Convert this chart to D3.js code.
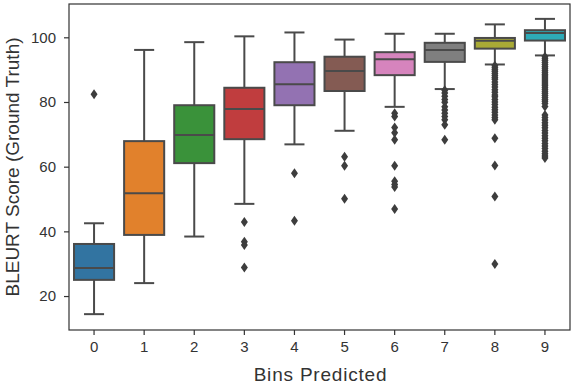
<!DOCTYPE html>
<html>
<head>
<meta charset="utf-8">
<script src="https://cdn.jsdelivr.net/npm/d3@7"></script>
<style>
  body { margin: 0; background: #fff; }
  svg { display: block; font-family: "Liberation Sans", Arial, sans-serif; }
</style>
</head>
<body>
<div id="chart"></div>
<script>
// bins on x axis
var bins = ["0", "1", "2", "3", "4", "5", "6", "7", "8", "9"];
var colors = ["#3274a1", "#e1812c", "#3a923a", "#c03d3e", "#9372b2",
              "#845b53", "#d684bd", "#7f7f7f", "#a9aa35", "#2eabb8"];

// box stats
var whiskerLo = [14.4, 24.0, 38.4, 48.5, 66.9, 71.1, 78.5, 84.0, 91.6, 94.4];
var q1        = [25.0, 38.9, 61.1, 68.5, 79.0, 83.4, 88.3, 92.4, 96.5, 99.0];
var median    = [28.7, 51.8, 69.8, 77.8, 85.5, 89.6, 93.2, 96.1, 98.9, 101.3];
var q3        = [36.1, 67.9, 79.0, 84.4, 92.3, 94.0, 95.4, 98.3, 99.8, 102.2];
var whiskerHi = [42.5, 96.1, 98.5, 100.3, 101.5, 99.3, 101.1, 101.1, 104.0, 105.7];

var outliers = [
  [82.4],
  [],
  [],
  [42.9, 36.8, 35.8, 28.8],
  [58.0, 43.3],
  [63.1, 60.3, 50.1],
  [76.5, 75.5, 72.1, 70.5, 68.3, 60.3, 55.5, 54.5, 53.7, 46.9],
  [83.6, 82.8, 81.8, 80.8, 79.9, 78.5, 77.5, 76.5, 75.5, 74.5, 73.0, 68.3],
  [91.2, 90.6, 90.0, 89.4, 88.8, 88.2, 87.6, 87.0, 86.2, 85.4, 84.6, 83.8,
   83.0, 82.2, 81.6, 80.8, 80.0, 79.2, 78.4, 77.6, 76.8, 76.0, 75.2, 74.5,
   68.8, 60.4, 50.8, 29.9],
  [94.0, 93.4, 92.8, 92.2, 91.6, 91.0, 90.4, 89.8, 89.2, 88.6, 88.0, 87.4,
   86.8, 86.2, 85.6, 85.0, 84.4, 83.8, 83.2, 82.6, 82.0, 81.4, 80.8, 80.2,
   79.5, 78.6, 76.0, 75.2, 74.4, 73.6, 72.8, 72.0, 71.2, 70.4, 69.6, 68.8,
   68.0, 67.2, 66.4, 65.6, 64.8, 64.0, 63.3, 62.7]
];

var yTicks = [20, 40, 60, 80, 100];

var width = 574, height = 384;
var margin = {top: 4, right: 4, bottom: 54, left: 69};
var lineColor = "#4a4a4a";

var svg = d3.select("#chart").append("svg")
    .attr("width", width)
    .attr("height", height);

var x = d3.scaleBand()
    .domain(bins)
    .range([margin.left, width - margin.right])
    .padding(0);

var y = d3.scaleLinear()
    .domain([9.5, 110.3])
    .range([height - margin.bottom, margin.top]);

var boxW = x.bandwidth() * 0.8;

var data = bins.map(function(b, i) {
  return {bin: b, color: colors[i], lo: whiskerLo[i], q1: q1[i], med: median[i],
          q3: q3[i], hi: whiskerHi[i], out: outliers[i]};
});

var g = svg.selectAll("g.box")
    .data(data)
    .enter().append("g")
    .attr("class", "box")
    .attr("transform", function(d) { return "translate(" + (x(d.bin) + x.bandwidth() / 2) + ",0)"; });

// whiskers
g.append("line")
    .attr("x1", 0).attr("x2", 0)
    .attr("y1", function(d) { return y(d.q1); })
    .attr("y2", function(d) { return y(d.lo); })
    .attr("stroke", lineColor).attr("stroke-width", 2);
g.append("line")
    .attr("x1", 0).attr("x2", 0)
    .attr("y1", function(d) { return y(d.q3); })
    .attr("y2", function(d) { return y(d.hi); })
    .attr("stroke", lineColor).attr("stroke-width", 2);
// caps
g.append("line")
    .attr("x1", -boxW / 4).attr("x2", boxW / 4)
    .attr("y1", function(d) { return y(d.lo); })
    .attr("y2", function(d) { return y(d.lo); })
    .attr("stroke", lineColor).attr("stroke-width", 2);
g.append("line")
    .attr("x1", -boxW / 4).attr("x2", boxW / 4)
    .attr("y1", function(d) { return y(d.hi); })
    .attr("y2", function(d) { return y(d.hi); })
    .attr("stroke", lineColor).attr("stroke-width", 2);

// boxes
g.append("rect")
    .attr("x", -boxW / 2)
    .attr("width", boxW)
    .attr("y", function(d) { return y(d.q3); })
    .attr("height", function(d) { return y(d.q1) - y(d.q3); })
    .attr("fill", function(d) { return d.color; })
    .attr("stroke", lineColor).attr("stroke-width", 2);

// median
g.append("line")
    .attr("x1", -boxW / 2).attr("x2", boxW / 2)
    .attr("y1", function(d) { return y(d.med); })
    .attr("y2", function(d) { return y(d.med); })
    .attr("stroke", lineColor).attr("stroke-width", 2);

// fliers (diamonds)
var diamond = "M0,-5L3.5,0L0,5L-3.5,0Z";
g.selectAll("path.flier")
    .data(function(d) { return d.out; })
    .enter().append("path")
    .attr("class", "flier")
    .attr("d", diamond)
    .attr("transform", function(v) { return "translate(0," + y(v) + ")"; })
    .attr("fill", "#3d3d3d");

// axes
var xAxis = d3.axisBottom(x).tickSizeInner(5).tickSizeOuter(0).tickPadding(6);
var yAxis = d3.axisLeft(y).tickValues(yTicks).tickSizeInner(5).tickSizeOuter(0).tickPadding(8);

var gx = svg.append("g")
    .attr("transform", "translate(0," + (height - margin.bottom) + ")")
    .call(xAxis);
var gy = svg.append("g")
    .attr("transform", "translate(" + margin.left + ",0)")
    .call(yAxis);

[gx, gy].forEach(function(a) {
  a.select(".domain").remove();
  a.selectAll(".tick line").attr("stroke", "#333").attr("stroke-width", 1.2);
  a.selectAll(".tick text").attr("fill", "#333").style("font-size", "15px");
});

// frame
svg.append("rect")
    .attr("x", margin.left)
    .attr("y", margin.top)
    .attr("width", width - margin.left - margin.right)
    .attr("height", height - margin.top - margin.bottom)
    .attr("fill", "none")
    .attr("stroke", "#333")
    .attr("stroke-width", 1.2);

svg.append("text")
    .attr("x", (margin.left + width - margin.right) / 2 + 1)
    .attr("y", 381)
    .attr("text-anchor", "middle")
    .attr("fill", "#333")
    .style("font-size", "19px")
    .style("letter-spacing", "0.8px")
    .text("Bins Predicted");

svg.append("text")
    .attr("transform", "translate(19," + ((margin.top + height - margin.bottom) / 2) + ") rotate(-90)")
    .attr("text-anchor", "middle")
    .attr("fill", "#333")
    .style("font-size", "19px")
    .text("BLEURT Score (Ground Truth)");
</script>
</body>
</html>
